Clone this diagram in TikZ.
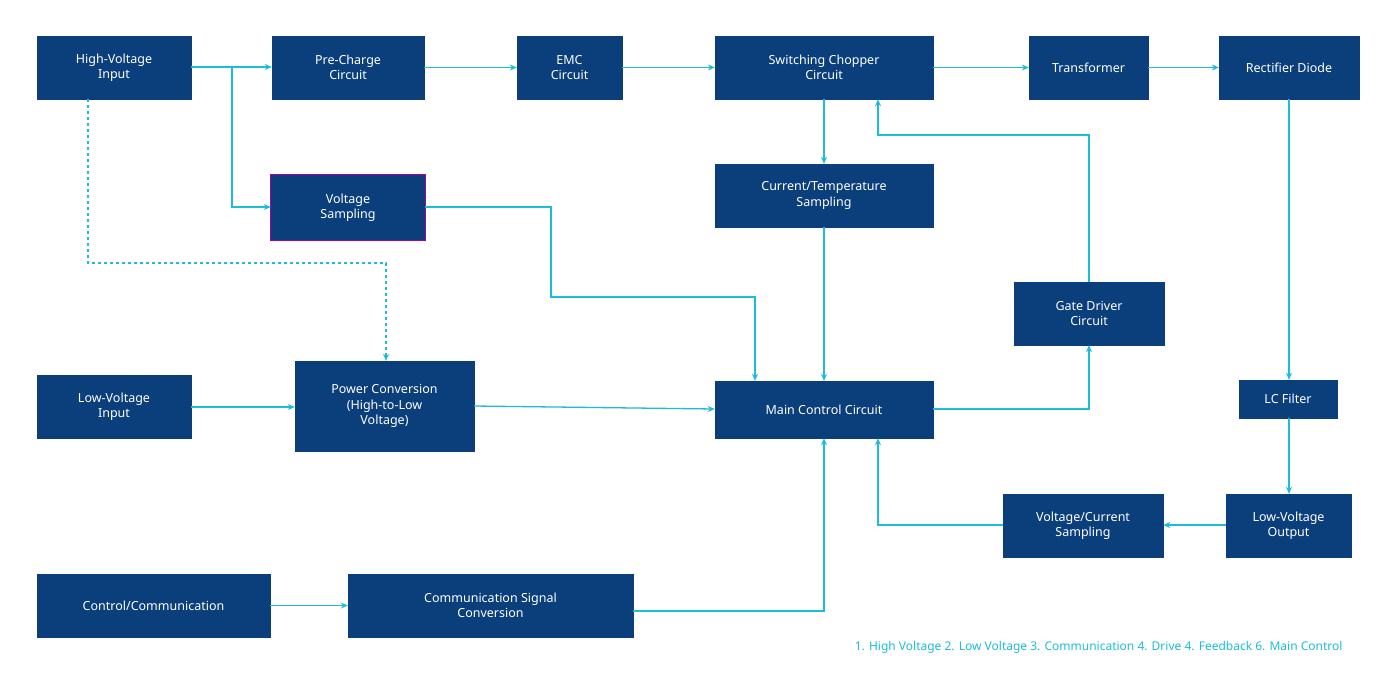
\documentclass[tikz,border=0pt]{standalone}
\usepackage{fontspec}
\setmainfont{Noto Sans}
\usetikzlibrary{arrows.meta}
\definecolor{bx}{HTML}{0A3F7C}
\definecolor{ln}{HTML}{1DBCD8}
\begin{document}
\begin{tikzpicture}[x=1pt,y=-1pt,
  box/.style={draw=bx,fill=bx,text=white,font=\fontsize{12.5}{15.5}\selectfont\bfseries,align=center,inner sep=0},
  ar/.style={draw=ln,line width=1.3pt,-{Stealth[length=7pt,width=6pt]}}]
\useasboundingbox (0,0) rectangle (1400,686);
\newcommand\bx[6]{\node[box,minimum width={#4-#2},minimum height={#5-#3}] (#1) at ({(#2+#4)/2},{(#3+#5)/2}) {#6};}
\bx{hv}{37}{36}{191}{99}{High-Voltage\\Input}
\bx{pc}{272}{36}{424}{99}{Pre-Charge\\Circuit}
\bx{emc}{517}{36}{622}{99}{EMC\\Circuit}
\bx{sc}{715}{36}{933}{99}{Switching Chopper\\Circuit}
\bx{tr}{1029}{36}{1148}{99}{Transformer}
\bx{rd}{1219}{36}{1359}{99}{Rectifier Diode}
\bx{vs}{271}{175}{425}{240}{Voltage\\Sampling}
\draw[violet!70!magenta,line width=1pt] (vs.north west) rectangle (vs.south east);
\bx{ct}{715}{164}{933}{227}{Current/Temperature\\Sampling}
\bx{gd}{1014}{282}{1164}{345}{Gate Driver\\Circuit}
\bx{lv}{37}{375}{191}{438}{Low-Voltage\\Input}
\bx{pw}{295}{361}{474}{451}{Power Conversion\\(High-to-Low\\Voltage)}
\bx{mc}{715}{381}{933}{438}{Main Control Circuit}
\bx{lc}{1239}{380}{1337}{418}{LC Filter}
\bx{vc}{1003}{494}{1163}{557}{Voltage/Current\\Sampling}
\bx{lo}{1226}{494}{1351}{557}{Low-Voltage\\Output}
\bx{cc}{37}{574}{270}{637}{Control/Communication}
\bx{cs}{348}{574}{633}{637}{Communication Signal\\Conversion}
\node[text=ln,font=\fontsize{12}{14}\selectfont\bfseries,anchor=east] (leg) at (1346,647) {1. High Voltage 2. Low Voltage 3. Communication 4. Drive 4. Feedback 6. Main Control};
\draw[ar] (hv.east|-0,67) -- (pc.west|-0,67);
\draw[ar] (232,67) -- (232,207) -- (vs.west|-0,207);
\draw[ar,dashed] (88,99) -- (88,263) -- (386,263) -- (pw.north-|386,0);
\draw[ar] (pc) -- (emc);
\draw[ar] (emc) -- (sc);
\draw[ar] (sc) -- (tr);
\draw[ar] (tr) -- (rd);
\draw[ar] (rd.south-|1289,0) -- (lc.north-|1289,0);
\draw[ar] (lc.south-|1289,0) -- (lo.north-|1289,0);
\draw[ar] (lo.west|-0,525) -- (vc.east|-0,525);
\draw[ar] (vc.west|-0,525) -- (878,525) -- (mc.south-|878,0);
\draw[ar] (cs.east|-0,611) -- (824,611) -- (mc.south-|824,0);
\draw[ar] (mc.east|-0,409) -- (1089,409) -- (gd.south-|1089,0);
\draw[ar] (gd.north-|1089,0) -- (1089,135) -- (878,135) -- (sc.south-|878,0);
\draw[ar] (sc.south-|824,0) -- (ct.north-|824,0);
\draw[ar] (ct.south-|824,0) -- (mc.north-|824,0);
\draw[ar] (vs.east|-0,207) -- (551,207) -- (551,297) -- (755,297) -- (mc.north-|755,0);
\draw[ar] (lv.east|-0,407) -- (pw.west|-0,407);
\draw[ar] (pw.east|-0,406) -- (mc.west|-0,409);
\draw[ar] (cc) -- (cs);
\end{tikzpicture}
\end{document}
